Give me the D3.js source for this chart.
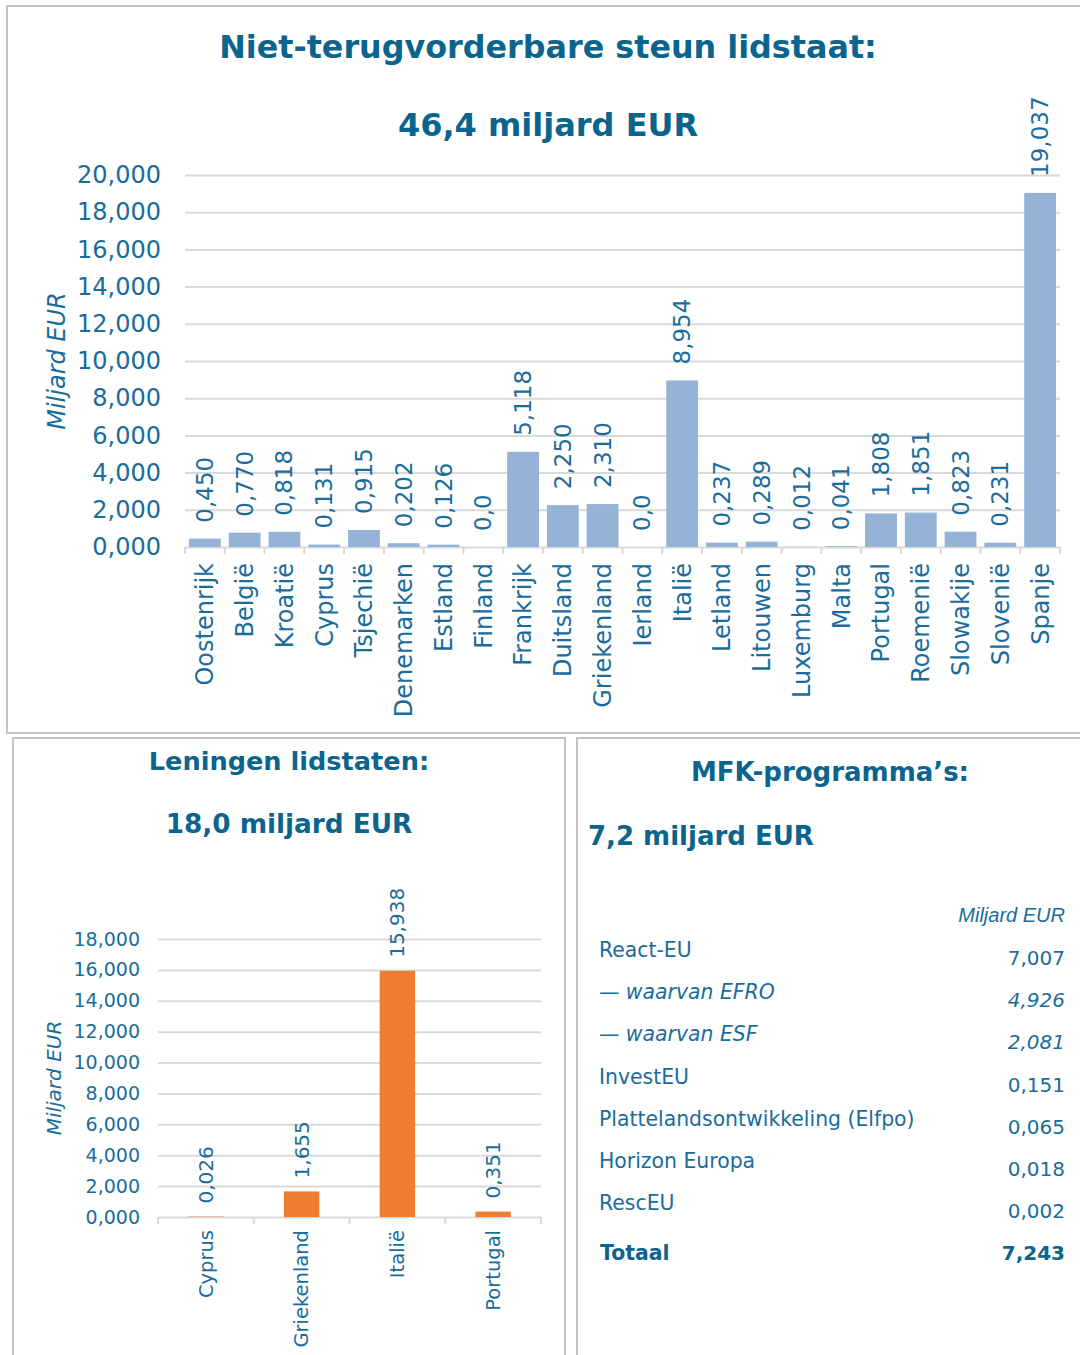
<!DOCTYPE html>
<html>
<head>
<meta charset="utf-8">
<script src="https://cdn.jsdelivr.net/npm/d3@7"></script>
<style>
body { margin: 0; background: #fff; }
text { font-family: "DejaVu Sans", Verdana, sans-serif; }
</style>
</head>
<body>
<svg width="1080" height="1355"></svg>
<script>
// data (miljard EUR)
var grantCountries = ["Oostenrijk", "België", "Kroatië", "Cyprus", "Tsjechië", "Denemarken", "Estland", "Finland",
    "Frankrijk", "Duitsland", "Griekenland", "Ierland", "Italië", "Letland", "Litouwen", "Luxemburg", "Malta",
    "Portugal", "Roemenië", "Slowakije", "Slovenië", "Spanje"];
var grantValues = [0.450, 0.770, 0.818, 0.131, 0.915, 0.202, 0.126, 0, 5.118, 2.250, 2.310, 0, 8.954, 0.237,
    0.289, 0.012, 0.041, 1.808, 1.851, 0.823, 0.231, 19.037];
var grantTicks = [0, 2, 4, 6, 8, 10, 12, 14, 16, 18, 20];

var loanCountries = ["Cyprus", "Griekenland", "Italië", "Portugal"];
var loanValues = [0.026, 1.655, 15.938, 0.351];
var loanTicks = [0, 2, 4, 6, 8, 10, 12, 14, 16, 18];

var mfkLabels = ["React-EU", "— waarvan EFRO", "— waarvan ESF", "InvestEU", "Plattelandsontwikkeling (Elfpo)",
    "Horizon Europa", "RescEU", "Totaal"];
var mfkValues = [7.007, 4.926, 2.081, 0.151, 0.065, 0.018, 0.002, 7.243];

var titleColor = "#0b648e",
    textColor = "#1a6c9c",
    gridColor = "#d9d9d9";

var nl = d3.formatLocale({decimal: ",", thousands: ".", grouping: [3], currency: ["€", ""]});
var fmt3 = nl.format(".3f");
function valueLabel(v) { return v === 0 ? "0,0" : fmt3(v); }

var svg = d3.select("svg");

// panel frames
function frame(x, y, w, h) {
    svg.append("rect")
        .attr("x", x).attr("y", y).attr("width", w).attr("height", h)
        .attr("fill", "none").attr("stroke", "#c4c4c4").attr("stroke-width", 2);
}
frame(7, 6, 1080, 727);
frame(13, 738, 552, 640);
frame(577, 738, 520, 640);

function title(txt, x, y, size, anchor) {
    svg.append("text")
        .attr("x", x).attr("y", y)
        .attr("text-anchor", anchor || "middle")
        .attr("font-size", size)
        .attr("font-weight", "bold")
        .attr("fill", titleColor)
        .text(txt);
}

// generic bar chart
function barChart(o) {
    var x = d3.scaleBand().domain(o.cats).range([o.x0, o.x1]).paddingInner(o.pad).paddingOuter(o.pad / 2);
    var y = d3.scaleLinear().domain([0, o.max]).range([o.yBase, o.yTop]);
    var g = svg.append("g");

    var yAxis = d3.axisLeft(y).tickValues(o.ticks).tickFormat(fmt3).tickSize(-(o.x1 - o.x0)).tickPadding(o.tickPad);
    var ya = g.append("g").attr("transform", "translate(" + o.x0 + ",0)").call(yAxis);
    ya.select(".domain").remove();
    ya.selectAll(".tick line").attr("stroke", gridColor).attr("stroke-width", 2);
    ya.selectAll(".tick text")
        .attr("fill", textColor)
        .attr("font-size", o.tickSize)
        .attr("font-family", "DejaVu Sans, Verdana, sans-serif");

    // category boundary ticks under the axis
    var edges = o.cats.map(function (c) { return x(c) - x.step() * x.paddingInner() / 2; });
    edges.push(o.x1);
    g.selectAll(".edge").data(edges).enter().append("line")
        .attr("x1", function (d) { return d; }).attr("x2", function (d) { return d; })
        .attr("y1", o.yBase).attr("y2", o.yBase + 7)
        .attr("stroke", gridColor).attr("stroke-width", 2);

    g.selectAll(".bar").data(o.values).enter().append("rect")
        .attr("x", function (d, i) { return x(o.cats[i]); })
        .attr("width", x.bandwidth())
        .attr("y", function (d) { return y(d); })
        .attr("height", function (d) { return o.yBase - y(d); })
        .attr("fill", o.color);

    g.selectAll(".val").data(o.values).enter().append("text")
        .attr("transform", function (d, i) {
            return "translate(" + (x(o.cats[i]) + x.bandwidth() / 2) + "," + (y(d) - o.valGap) + ") rotate(-90)";
        })
        .attr("dy", "0.35em")
        .attr("font-size", o.valSize)
        .attr("fill", textColor)
        .text(valueLabel);

    g.selectAll(".cat").data(o.cats).enter().append("text")
        .attr("transform", function (d) {
            return "translate(" + (x(d) + x.bandwidth() / 2) + "," + (o.yBase + o.catGap) + ") rotate(-90)";
        })
        .attr("dy", "0.35em")
        .attr("text-anchor", "end")
        .attr("font-size", o.catSize)
        .attr("fill", textColor)
        .text(function (d) { return d; });

    g.append("text")
        .attr("transform", "translate(" + o.axX + "," + ((o.yBase + o.yTop) / 2) + ") rotate(-90)")
        .attr("text-anchor", "middle")
        .attr("font-size", o.axSize)
        .attr("font-style", "italic")
        .attr("fill", textColor)
        .text("Miljard EUR");
}

// top chart
title("Niet-terugvorderbare steun lidstaat:", 548, 58, 31.8);
title("46,4 miljard EUR", 548, 136, 32);
barChart({
    cats: grantCountries, values: grantValues, ticks: grantTicks, max: 20,
    x0: 185, x1: 1060, yBase: 547, yTop: 175, pad: 0.2,
    color: "#95b3d7", tickSize: 24, tickPad: 24, valSize: 23, valGap: 16, catSize: 24, catGap: 16,
    axX: 65, axSize: 24
});

// bottom-left chart
title("Leningen lidstaten:", 289, 770, 25.6);
title("18,0 miljard EUR", 289, 833, 26.3);
barChart({
    cats: loanCountries, values: loanValues, ticks: loanTicks, max: 18,
    x0: 158, x1: 541, yBase: 1217, yTop: 939, pad: 0.63,
    color: "#ed7d31", tickSize: 19, tickPad: 18, valSize: 20, valGap: 13, catSize: 19.5, catGap: 13,
    axX: 61, axSize: 20
});

// bottom-right table
title("MFK-programma’s:", 830, 781, 26);
title("7,2 miljard EUR", 588, 845, 26, "start");

svg.append("text")
    .attr("x", 1065).attr("y", 922)
    .attr("text-anchor", "end")
    .attr("font-size", 20)
    .attr("font-style", "italic")
    .attr("fill", textColor)
    .style("font-family", "Liberation Sans, Arial, sans-serif")
    .text("Miljard EUR");

var rowY = d3.scaleLinear().domain([0, 6]).range([957, 1210]);
function labelY(i) { return i === mfkLabels.length - 1 ? 1260 : rowY(i); }
function valueY(i) { return i === mfkLabels.length - 1 ? 1260 : rowY(i) + 8; }
function isSub(d) { return d.indexOf("—") === 0; }

var rows = svg.append("g");
rows.selectAll(".lab").data(mfkLabels).enter().append("text")
    .attr("x", function (d) { return d === "Totaal" ? 600 : 599; })
    .attr("y", function (d, i) { return labelY(i); })
    .attr("font-size", 20.4)
    .attr("font-style", function (d) { return isSub(d) ? "italic" : "normal"; })
    .attr("font-weight", function (d) { return d === "Totaal" ? "bold" : "normal"; })
    .attr("fill", function (d) { return d === "Totaal" ? titleColor : textColor; })
    .text(function (d) { return d; });

rows.selectAll(".num").data(mfkValues).enter().append("text")
    .attr("x", 1065)
    .attr("y", function (d, i) { return valueY(i); })
    .attr("text-anchor", "end")
    .attr("font-size", 20)
    .attr("font-style", function (d, i) { return isSub(mfkLabels[i]) ? "italic" : "normal"; })
    .attr("font-weight", function (d, i) { return mfkLabels[i] === "Totaal" ? "bold" : "normal"; })
    .attr("fill", function (d, i) { return mfkLabels[i] === "Totaal" ? titleColor : textColor; })
    .text(fmt3);
</script>
</body>
</html>
